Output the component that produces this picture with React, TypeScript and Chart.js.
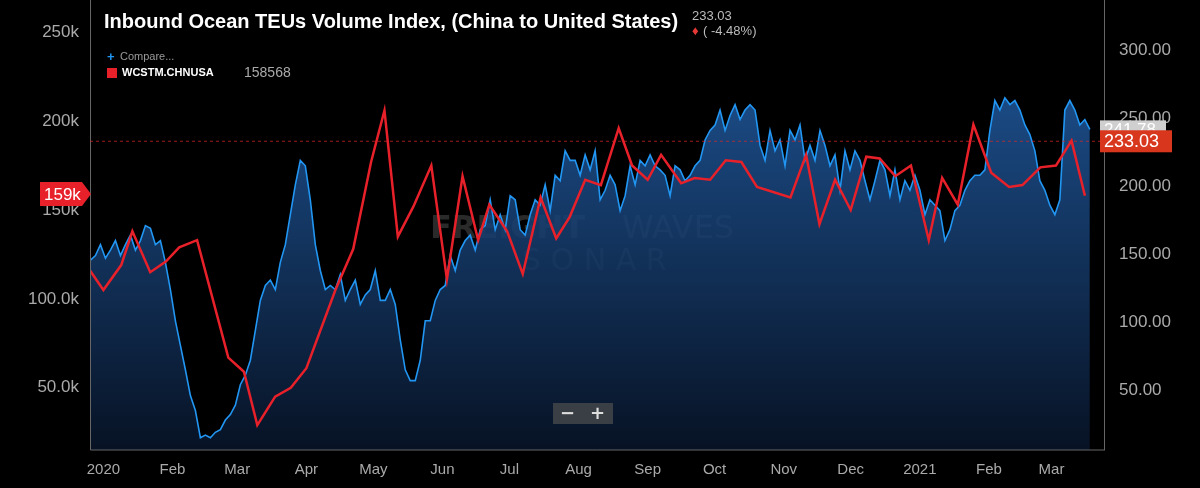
import React, { useEffect, useRef } from "react";
import { Chart, registerables } from "chart.js";
Chart.register(...registerables);

// Month ticks: days since 2020-01-01
const monthDays = [0, 31, 60, 91, 121, 152, 182, 213, 244, 274, 305, 335, 366, 397, 425];
const monthLabels = ["2020", "Feb", "Mar", "Apr", "May", "Jun", "Jul", "Aug", "Sep", "Oct", "Nov", "Dec", "2021", "Feb", "Mar"];

// Blue: Inbound Ocean TEUs Volume Index (right axis), sampled every blueStep days
const blueStart = -5.8;
const blueStep = 2.24;
const blueValues = [145.6,149,157,147,153,160,149,157,164,153,160,171,169,157,160,144,124,101,83,65,46,35,15,17,15,19,21,28,32,39,54,61,72,94,116,127,131,124,144,157,179,201,219,215,190,157,138,124,127,124,135,116,124,131,113,120,124,138,116,116,124,113,87,65,57,57,72,101,101,116,124,127,149,138,153,160,164,153,168,171,190,168,179,168,193,190,168,164,179,190,186,201,182,208,204,226,219,219,208,223,212,226,190,197,208,201,182,193,215,201,219,215,223,215,212,208,193,215,212,204,208,215,219,234,241,245,256,241,252,260,249,256,260,256,230,219,241,226,234,215,241,234,245,219,230,219,241,230,215,223,197,226,212,226,219,204,190,204,219,212,193,212,190,204,197,208,197,179,190,186,182,160,168,182,186,197,204,208,208,212,241,263,256,265,260,263,256,245,238,226,204,197,186,179,190,256,263,256,245,249,241.78];

// Red: WCSTM.CHNUSA (left axis, thousands)
const redDays = [-6,0,8,13,21,28,34,42,56,63,69,77,84,91,104,112,120,126,132,139,147,154,161,168,173,181,188,196,203,209,216,223,231,237,244,250,259,265,272,279,286,293,308,315,321,328,335,342,348,355,362,370,376,383,390,398,406,412,420,427,434,440];
const redValues = [116,105,119,138,115,121,129,133,67,59,29,45,50,61,105,128,177,206,135,152,175,111,169,133,153,138,114,157,134,146,167,164,196,175,167,181,165,168,167,178,177,163,157,181,142,167,150,180,179,169,175,133,168,153,198,171,163,164,174,175,189,158];

const leftTicks = [50, 100, 150, 200, 250];
const leftLabels = ["50.0k", "100.0k", "150k", "200k", "250k"];
const rightTicks = [50, 100, 150, 200, 250, 300];

const blueData = blueValues.map((v, i) => ({ x: blueStart + i * blueStep, y: v }));
const redData = redDays.map((d, i) => ({ x: d, y: redValues[i] }));

function box(ctx: CanvasRenderingContext2D, x: number, y: number, w: number, h: number, fill: string, text: string, color: string, font: string) {
  ctx.fillStyle = fill;
  ctx.fillRect(x, y - h / 2, w, h);
  ctx.fillStyle = color;
  ctx.font = font;
  ctx.textAlign = "left";
  ctx.textBaseline = "middle";
  ctx.fillText(text, x + 4, y + 1);
}

const overlay = {
  id: "overlay",
  beforeDatasetsDraw(chart: any) {
    const ctx = chart.ctx as CanvasRenderingContext2D;
    ctx.save();
    ctx.fillStyle = "rgba(120,120,120,0.35)";
    ctx.textBaseline = "middle";
    ctx.textAlign = "left";
    ctx.font = "bold 32px 'DejaVu Sans'";
    ctx.fillText("FREIGHT", 430, 230);
    ctx.font = "32px 'DejaVu Sans'";
    ctx.fillText("WAVES", 622, 230);
    ctx.font = "30px 'DejaVu Sans'";
    ctx.fillText("S O N A R", 522, 262);
    ctx.restore();
  },
  afterDraw(chart: any) {
    const ctx = chart.ctx as CanvasRenderingContext2D;
    const a = chart.chartArea;
    const yR = chart.scales.yR;
    const yL = chart.scales.yL;
    ctx.save();
    ctx.strokeStyle = "#666";
    ctx.lineWidth = 1;
    ctx.beginPath();
    ctx.moveTo(a.left + 0.5, 0); ctx.lineTo(a.left + 0.5, a.bottom);
    ctx.lineTo(a.right, a.bottom);
    ctx.moveTo(a.right - 0.5, 0); ctx.lineTo(a.right - 0.5, a.bottom);
    ctx.stroke();
    const yv = yR.getPixelForValue(233.03);
    ctx.strokeStyle = "rgba(220,40,40,0.7)";
    ctx.setLineDash([3, 3]);
    ctx.beginPath(); ctx.moveTo(a.left, yv); ctx.lineTo(a.right, yv); ctx.stroke();
    ctx.setLineDash([]);
    ctx.fillStyle = "#fff";
    ctx.font = "bold 20px 'Liberation Sans'";
    ctx.textAlign = "left"; ctx.textBaseline = "middle";
    ctx.fillText("Inbound Ocean TEUs Volume Index, (China to United States)", 104, 22);
    ctx.fillStyle = "#bbb";
    ctx.font = "13px 'Liberation Sans'";
    ctx.fillText("233.03", 692, 16);
    ctx.fillStyle = "#e53935";
    ctx.fillText("\u2666", 692, 31);
    ctx.fillStyle = "#bbb";
    ctx.fillText("( -4.48%)", 703, 31);
    ctx.fillStyle = "#2196f3";
    ctx.font = "bold 13px 'Liberation Sans'";
    ctx.fillText("+", 107, 57);
    ctx.fillStyle = "#999";
    ctx.font = "11px 'Liberation Sans'";
    ctx.fillText("Compare...", 120, 57);
    ctx.fillStyle = "#e8202a";
    ctx.fillRect(107, 68, 10, 10);
    ctx.fillStyle = "#fff";
    ctx.font = "bold 11px 'Liberation Sans'";
    ctx.fillText("WCSTM.CHNUSA", 122, 73);
    ctx.fillStyle = "#aaa";
    ctx.font = "14px 'Liberation Sans'";
    ctx.fillText("158568", 244, 73);
    const y159 = yL.getPixelForValue(159);
    ctx.fillStyle = "#e8202a";
    ctx.beginPath();
    ctx.moveTo(40, y159 - 12); ctx.lineTo(82, y159 - 12); ctx.lineTo(91, y159); ctx.lineTo(82, y159 + 12); ctx.lineTo(40, y159 + 12);
    ctx.closePath(); ctx.fill();
    ctx.fillStyle = "#fff";
    ctx.font = "17px 'Liberation Sans'";
    ctx.fillText("159k", 44, y159 + 1);
    box(ctx, 1100, yR.getPixelForValue(241.78), 66, 18, "#cfcfcf", "241.78", "#fff", "17px 'Liberation Sans'");
    box(ctx, 1100, yv, 72, 22, "#d9361e", "233.03", "#fff", "18px 'Liberation Sans'");
    ctx.fillStyle = "#3a3f45";
    ctx.fillRect(553, 403, 60, 21);
    ctx.fillStyle = "#ddd";
    ctx.font = "bold 18px 'DejaVu Sans'";
    ctx.fillText("\u2212", 560, 414);
    ctx.fillText("+", 590, 414);
    ctx.restore();
  },
};

export default function App() {
  const ref = useRef<HTMLCanvasElement>(null);
  useEffect(() => {
    document.body.style.margin = "0";
    document.body.style.background = "#000";
    const ctx = ref.current!.getContext("2d")!;
    const grad = ctx.createLinearGradient(0, 80, 0, 450);
    grad.addColorStop(0, "rgba(32,90,160,0.85)");
    grad.addColorStop(1, "rgba(8,20,40,0.9)");
    const chart = new Chart(ctx, {
      type: "line",
      data: {
        datasets: [
          { data: redData, borderColor: "#e8202a", borderWidth: 2.5, pointRadius: 0, yAxisID: "yL", tension: 0, order: 0 },
          { data: blueData, borderColor: "#2196f3", borderWidth: 1.6, pointRadius: 0, yAxisID: "yR", fill: "start", backgroundColor: grad, tension: 0, order: 1 },
        ],
      },
      options: {
        animation: false,
        responsive: false,
        plugins: { legend: { display: false }, tooltip: { enabled: false } },
        scales: {
          x: {
            type: "linear", min: -6, max: 449,
            grid: { display: false },
            border: { display: false },
            afterBuildTicks: (s: any) => { s.ticks = monthDays.map((v) => ({ value: v })); },
            ticks: {
              color: "#aaa", font: { size: 15, family: "Liberation Sans" }, maxRotation: 0, autoSkip: false,
              callback: (v: any) => monthLabels[monthDays.indexOf(v)] ?? "",
            },
            afterFit: (s: any) => { s.height = 38; },
          },
          yL: {
            position: "left", min: 15, max: 259,
            grid: { display: false }, border: { display: false },
            afterBuildTicks: (s: any) => { s.ticks = leftTicks.map((v) => ({ value: v })); },
            ticks: { color: "#aaa", font: { size: 17, family: "Liberation Sans" }, callback: (v: any) => leftLabels[leftTicks.indexOf(v)] },
            afterFit: (s: any) => { s.width = 90; },
          },
          yR: {
            position: "right", min: 6, max: 325,
            grid: { display: false }, border: { display: false },
            afterBuildTicks: (s: any) => { s.ticks = rightTicks.map((v) => ({ value: v })); },
            ticks: { color: "#aaa", font: { size: 17, family: "Liberation Sans" }, padding: 6, callback: (v: any) => Number(v).toFixed(2) },
            afterFit: (s: any) => { s.width = 95; },
          },
        },
      },
      plugins: [overlay],
    });
    return () => chart.destroy();
  }, []);
  return <canvas ref={ref} width={1200} height={488} style={{ display: "block", background: "#000" }} />;
}
